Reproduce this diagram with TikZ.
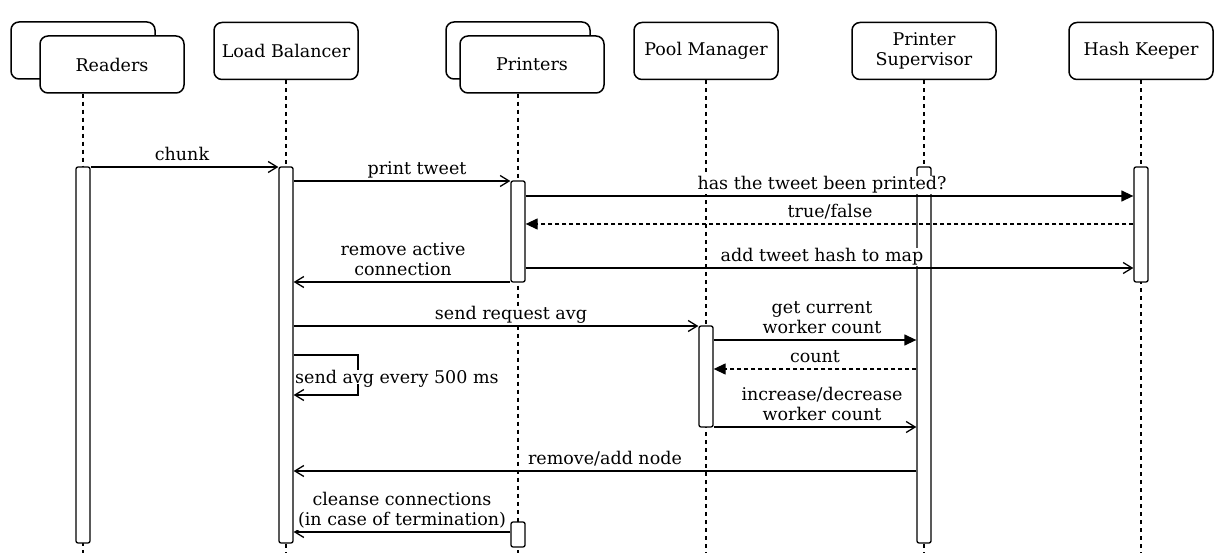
\documentclass[tikz,border=0pt]{standalone}
\usepackage{fontspec}
\setmainfont{DejaVu Serif}
\usetikzlibrary{arrows.meta}
\begin{document}
\begin{tikzpicture}[x=1pt,y=-1pt,
  actor/.style={draw,line width=1.5pt,rounded corners=8pt,fill=white,minimum width=144pt,minimum height=57pt,inner sep=0pt,align=center,font=\fontsize{17.5}{20.5}\selectfont},
  life/.style={line width=1.3pt,dash pattern=on 4pt off 4pt},
  act/.style={draw,line width=1.3pt,rounded corners=2pt,fill=white,minimum width=14pt,inner sep=0pt},
  msg/.style={line width=1.3pt,-{Straight Barb[length=9pt,width=11pt,line width=1.3pt]}},
  sync/.style={line width=1.3pt,-{Triangle[length=12pt,width=11pt]}},
  reply/.style={line width=1.3pt,dash pattern=on 4pt off 3pt,-{Triangle[length=12pt,width=11pt]}},
  lbl/.style={anchor=south,fill=white,inner xsep=1pt,inner ysep=0.5pt,text depth=4.2pt,align=center,font=\fontsize{17.5}{20}\selectfont}
]
\useasboundingbox (0,0) rectangle (1227,553);
\fill[white] (0,0) rectangle (1227,553);
% actors
\node[actor] (rback) at (83,50.5) {};
\node[actor] (readers) at (112,64.5) {Readers};
\node[actor] (lb) at (286,51) {Load Balancer};
\node[actor] (pback) at (518,50.5) {};
\node[actor] (printers) at (532,64.5) {Printers};
\node[actor] (pm) at (706,51) {Pool Manager};
\node[actor] (ps) at (924,51) {Printer\\Supervisor};
\node[actor] (hk) at (1141,51) {Hash Keeper};
% lifeline ends
\coordinate (bot) at (0,553);
\draw[life] (rback.center |- readers.south) -- (rback.center |- bot);
\draw[life] (lb.south) -- (lb.south |- bot);
\draw[life] (pback.center |- printers.south) -- (pback.center |- bot);
\draw[life] (pm.south) -- (pm.south |- bot);
\draw[life] (ps.south) -- (ps.south |- bot);
\draw[life] (hk.south) -- (hk.south |- bot);
% activations
\node[act,minimum height=376pt] (aR) at (83,355) {};
\node[act,minimum height=376pt] (aLB) at (286,355) {};
\node[act,minimum height=101pt] (aP1) at (518,231.5) {};
\node[act,minimum height=25pt] (aP2) at (518,534.5) {};
\node[act,minimum height=101pt] (aPM) at (706,376.5) {};
\node[act,minimum height=376pt] (aPS) at (924,355) {};
\node[act,minimum height=115pt] (aHK) at (1141,224.5) {};
% messages
\draw[msg] (aR.east |- 0,167) -- (aLB.west |- 0,167);
\draw[msg] (aLB.east |- 0,181) -- (aP1.west |- 0,181);
\draw[sync] (aP1.east |- 0,196) -- (aHK.west |- 0,196);
\draw[reply] (aHK.west |- 0,224) -- (aP1.east |- 0,224);
\draw[msg] (aP1.east |- 0,268) -- (aHK.west |- 0,268);
\draw[msg] (aP1.west |- 0,282) -- (aLB.east |- 0,282);
\draw[msg] (aLB.east |- 0,326) -- (aPM.west |- 0,326);
\draw[sync] (aPM.east |- 0,340) -- (aPS.west |- 0,340);
\draw[reply] (aPS.west |- 0,369) -- (aPM.east |- 0,369);
\draw[msg] (aPM.east |- 0,427) -- (aPS.west |- 0,427);
\draw[msg] (aPS.west |- 0,471) -- (aLB.east |- 0,471);
\draw[msg] (aLB.east |- 0,355) -- (358,355) -- (358,395) -- (aLB.east |- 0,395);
\draw[msg] (aP2.west |- 0,532) -- (aLB.east |- 0,532);
% labels
\node[lbl] (l1) at (182,165.5) {chunk};
\node[lbl] (l2) at (417,179.5) {print tweet};
\node[lbl] (l3) at (822,194.5) {has the tweet been printed?};
\node[lbl] (l4) at (830,222.5) {true/false};
\node[lbl] (l5) at (822,266.5) {add tweet hash to map};
\node[lbl] (l6) at (403,280.5) {remove active\\connection};
\node[lbl] (l7) at (511,324.5) {send request avg};
\node[lbl] (l8) at (822,338.5) {get current\\worker count};
\node[lbl] (l9) at (815,367.5) {count};
\node[lbl] (l10) at (822,425.5) {increase/decrease\\worker count};
\node[lbl] (l11) at (605,469.5) {remove/add node};
\node[lbl,anchor=base west,text depth=0pt] (l12) at (294,383.5) {send avg every 500 ms};
\node[lbl] (l13) at (402,530.5) {cleanse connections\\(in case of termination)};
\end{tikzpicture}
\end{document}
